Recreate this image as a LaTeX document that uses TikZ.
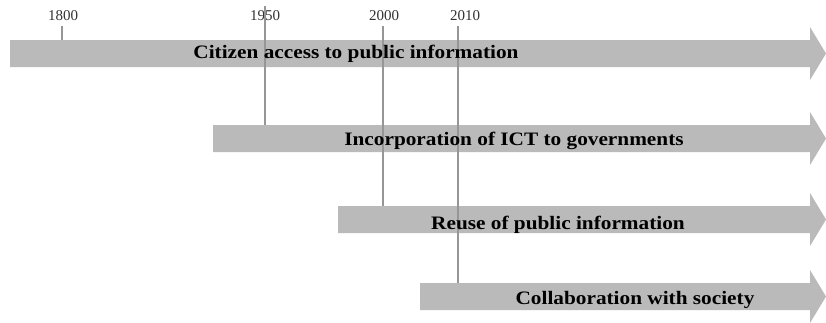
\documentclass[tikz,border=0pt]{standalone}
\usepackage{fontspec}
\setmainfont{Liberation Serif}
\newfontfamily\widebold[FakeStretch=1.12]{Liberation Serif}
\definecolor{bandgray}{RGB}{186,186,186}
\definecolor{tickgray}{RGB}{150,150,150}
\definecolor{yeargray}{RGB}{50,50,50}
\tikzset{
  band/.style={fill=bandgray, draw=none},
  tickline/.style={draw=tickgray, line width=1.8pt},
  year/.style={inner sep=0pt, text=yeargray, font=\fontsize{15}{15}\selectfont},
  phase/.style={inner sep=0pt, anchor=base, text=black, font=\widebold\bfseries\fontsize{19}{19}\selectfont}
}
% one timeline band: tail x, centre y; the head ends at the right margin
\newcommand\timeband[3]{%
  \fill[band] (#2,#3-13.5) -- (810,#3-13.5) -- (810,#3-26.5) -- (826,#3)
    -- (810,#3+26.5) -- (810,#3+13.5) -- (#2,#3+13.5) -- cycle;
  \coordinate (#1) at (#2,#3-13.5);
}
\begin{document}
\begin{tikzpicture}[x=1pt,y=-1pt]
\useasboundingbox (0,0) rectangle (826,322);
\fill[white] (0,0) rectangle (826,322);

% the four phases
\timeband{bandA}{10}{53.5}
\timeband{bandB}{213}{138.5}
\timeband{bandC}{338}{219.5}
\timeband{bandD}{420}{296.5}

% years along the top
\node[year] (y1800) at (63,16) {1800};
\node[year] (y1950) at (265,16) {1950};
\node[year] (y2000) at (384,16) {2000};
\node[year] (y2010) at (465,16) {2010};

% drop lines from each year to the band that starts there
\coordinate (t1800) at (62,26);
\coordinate (t1950) at (265,6);
\coordinate (t2000) at (383,26);
\coordinate (t2010) at (458,26);
\draw[tickline] (t1800) -- (t1800 |- bandA);
\draw[tickline] (t1950) -- (t1950 |- bandB);
\draw[tickline] (t2000) -- (t2000 |- bandC);
\draw[tickline] (t2010) -- (t2010 |- bandD);

% phase labels
\node[phase] (pA) at (356,58.5) {Citizen access to public information};
\node[phase] (pB) at (514,145) {Incorporation of ICT to governments};
\node[phase] (pC) at (558,229) {Reuse of public information};
\node[phase] (pD) at (635,304) {Collaboration with society};
\end{tikzpicture}
\end{document}
